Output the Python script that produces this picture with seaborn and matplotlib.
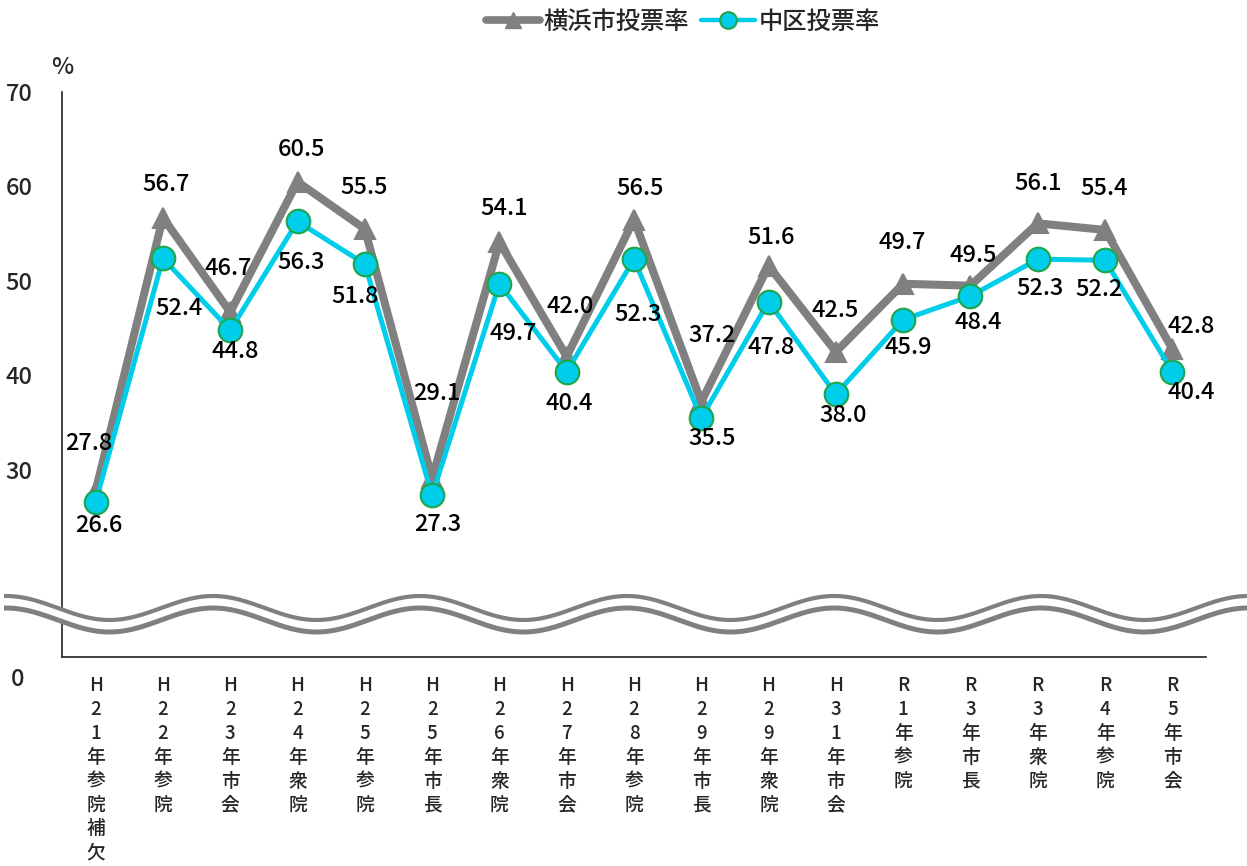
import numpy as np
import pandas as pd
import matplotlib
matplotlib.use("Agg")
import matplotlib.pyplot as plt
from matplotlib.lines import Line2D
import seaborn as sns

# ---- data ----
categories = ["H21年参院補欠", "H22年参院", "H23年市会", "H24年衆院", "H25年参院",
              "H25年市長", "H26年衆院", "H27年市会", "H28年参院", "H29年市長",
              "H29年衆院", "H31年市会", "R1年参院", "R3年市長", "R3年衆院",
              "R4年参院", "R5年市会"]
yokohama = [27.8, 56.7, 46.7, 60.5, 55.5, 29.1, 54.1, 42.0, 56.5, 37.2,
            51.6, 42.5, 49.7, 49.5, 56.1, 55.4, 42.8]
naka = [26.6, 52.4, 44.8, 56.3, 51.8, 27.3, 49.7, 40.4, 52.3, 35.5,
        47.8, 38.0, 45.9, 48.4, 52.3, 52.2, 40.4]
series_names = ["横浜市投票率", "中区投票率"]
ytick_values = [20, 30, 40, 50, 60, 70]
ytick_labels = ["", "30", "40", "50", "60", "70"]

# ---- label offsets (pixels, x right / y down) ----
off_yoko = [(-7, -47), (3, -33), (-2, -44), (4, -32), (-1, -41), (5, -85), (5, -34),
            (3, -50), (6, -31), (11, -66), (3, -28), (-1, -41), (-1, -41), (3, -30),
            (0, -40), (-1, -41), (19, -22)]
off_naka = [(3, 23), (16, 50), (5, 21), (4, 41), (-10, 33), (6, 29), (14, 50),
            (3, 32), (4, 55), (11, 21), (3, 46), (7, 21), (5, 28), (8, 26),
            (2, 29), (-6, 29), (19, 21)]

GRAY = "#808080"
CYAN = "#00CDEA"
GREEN = "#1FA54A"
FW = "medium"

sns.set_style("white")
plt.rcParams["font.family"] = ["Noto Sans CJK JP", "DejaVu Sans"]

W, H = 1247, 866
fig = plt.figure(figsize=(W / 100, H / 100), dpi=100)
ax = fig.add_axes([62 / W, 1 - 657 / H, (1206 - 62) / W, (657 - 92) / H])

pos = np.arange(len(categories))
df = pd.DataFrame({"pos": np.concatenate([pos, pos]),
                   "value": yokohama + naka,
                   "series": [series_names[0]] * len(pos) + [series_names[1]] * len(pos)})

sns.lineplot(data=df[df.series == series_names[0]], x="pos", y="value", ax=ax,
             color=GRAY, lw=5.8, marker="^", markersize=15, markeredgecolor=GRAY,
             markeredgewidth=1.5, legend=False, zorder=3, errorbar=None)
sns.lineplot(data=df[df.series == series_names[1]], x="pos", y="value", ax=ax,
             color=CYAN, lw=3.6, marker="o", markersize=17, markerfacecolor=CYAN,
             markeredgecolor=GREEN, markeredgewidth=1.5, legend=False, zorder=4,
             errorbar=None)

for i, v in enumerate(yokohama):
    dx, dy = off_yoko[i]
    ax.annotate(f"{v:.1f}", (pos[i], v), xytext=(dx, -dy), textcoords="offset pixels",
                ha="center", va="center", fontsize=17, fontweight=FW, color="black", zorder=6)
for i, v in enumerate(naka):
    dx, dy = off_naka[i]
    ax.annotate(f"{v:.1f}", (pos[i], v), xytext=(dx, -dy), textcoords="offset pixels",
                ha="center", va="center", fontsize=17, fontweight=FW, color="black", zorder=6)

ax.set_xlim(-0.5, len(categories) - 0.5)
ax.set_ylim(10.2, 70)
ax.set_xlabel("")
ax.set_ylabel("")
ax.set_yticks(ytick_values)
ax.set_yticklabels(ytick_labels, fontsize=17, fontweight=FW)
ax.tick_params(axis="y", direction="in", length=5, width=1, pad=21, color="#333333")
ax.set_xticks(pos)
ax.set_xticklabels(["\n".join(list(c)) for c in categories], fontsize=13.5,
                   linespacing=1.32, va="top", fontweight=FW)
ax.tick_params(axis="x", which="major", length=0, pad=14)
ax.set_xticks(np.arange(len(categories) + 1) - 0.5, minor=True)
ax.tick_params(axis="x", which="minor", direction="in", length=5, width=1, color="#333333")
for s in ["top", "right"]:
    ax.spines[s].set_visible(False)
for s in ["left", "bottom"]:
    ax.spines[s].set_color("#222222")
    ax.spines[s].set_linewidth(1.2)
ax.grid(False)

fig.text(62 / W, 1 - 68 / H, "%", ha="center", va="center", fontsize=17, fontweight=FW)
fig.text(18 / W, 1 - 680 / H, "0", ha="center", va="center", fontsize=17, fontweight=FW)

# ---- axis break wave ----
ov = fig.add_axes([0, 0, 1, 1], zorder=10)
ov.set_xlim(0, W)
ov.set_ylim(H, 0)
ov.axis("off")
ov.patch.set_alpha(0)
xs = np.linspace(4, W, 1200)
phase = np.cos(2 * np.pi * (xs - 213) / 207)
up = 608 - 12 * phase
lo = 620 - 12 * phase
ov.fill_between(xs, up, lo, color="white", lw=0)
ov.plot(xs, up, color=GRAY, lw=3.0, solid_capstyle="butt")
ov.plot(xs, lo, color=GRAY, lw=3.6, solid_capstyle="butt")

# ---- legend ----
handles = [Line2D([], [], color=GRAY, lw=5.5, marker="^", markersize=11,
                  markeredgecolor=GRAY, solid_capstyle="round"),
           Line2D([], [], color=CYAN, lw=3.2, marker="o", markersize=12,
                  markerfacecolor=CYAN, markeredgecolor=GREEN, markeredgewidth=1.5,
                  solid_capstyle="round")]
fig.legend(handles, series_names, loc="center", bbox_to_anchor=(683 / W, 1 - 22 / H),
           ncol=2, frameon=False, prop={"size": 17.5, "weight": FW},
           handlelength=2.2, handletextpad=0.15, columnspacing=0.5)

fig.savefig("out.png", dpi=100, facecolor="white")
